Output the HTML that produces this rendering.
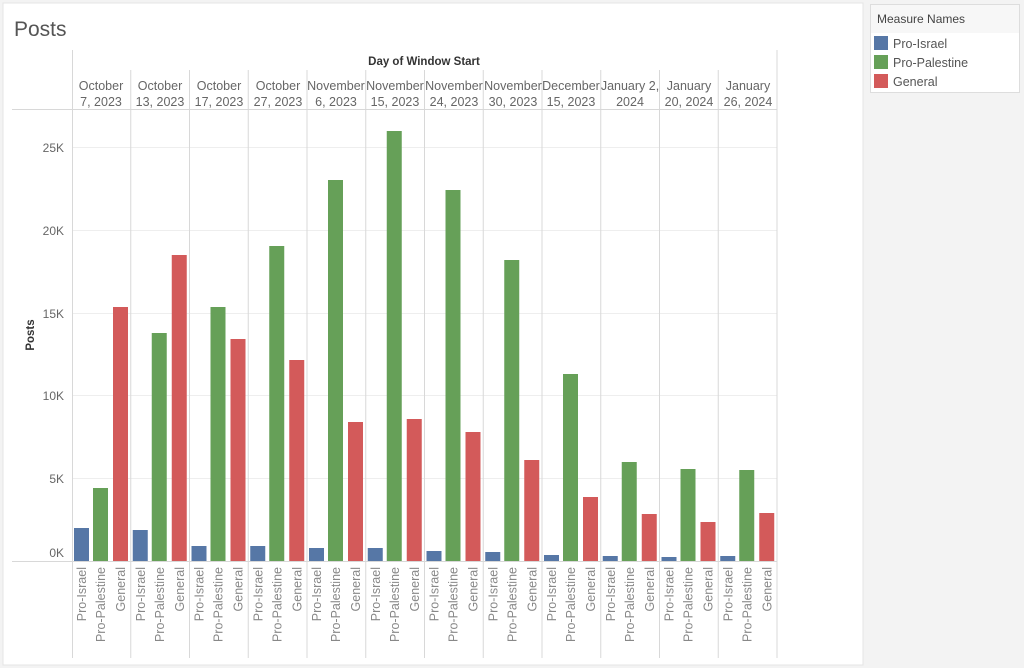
<!DOCTYPE html>
<html><head><meta charset="utf-8"><style>
html,body{margin:0;padding:0;background:#f3f3f3;}
svg{display:block;font-family:"Liberation Sans",sans-serif;}
</style></head><body>
<svg width="1024" height="668" viewBox="0 0 1024 668" xmlns="http://www.w3.org/2000/svg">
<rect x="0" y="0" width="1024" height="668" fill="#f3f3f3"/>
<rect x="3" y="3" width="860" height="662" fill="#ffffff" stroke="#e4e4e4"/>
<text x="14" y="36" font-size="21" fill="#555">Posts</text>
<!-- legend -->
<rect x="870.5" y="4.5" width="149" height="88" fill="#fff" stroke="#ddd"/>
<rect x="871" y="5" width="148" height="28" fill="#f7f7f7"/>
<text x="877" y="23" font-size="12" fill="#444">Measure Names</text>
<rect x="874" y="36" width="14" height="14" fill="#5677a6"/><text x="893" y="48" font-size="12.5" fill="#555">Pro-Israel</text>
<rect x="874" y="55" width="14" height="14" fill="#66a058"/><text x="893" y="67" font-size="12.5" fill="#555">Pro-Palestine</text>
<rect x="874" y="74" width="14" height="14" fill="#d35a5a"/><text x="893" y="86" font-size="12.5" fill="#555">General</text>
<!-- header -->
<text x="424" y="65" font-size="11.5" font-weight="bold" fill="#333" text-anchor="middle">Day of Window Start</text>
<g stroke="#eeeeee" stroke-width="1">
<line x1="72" y1="147.5" x2="777" y2="147.5"/><line x1="72" y1="230.5" x2="777" y2="230.5"/><line x1="72" y1="313.5" x2="777" y2="313.5"/><line x1="72" y1="395.5" x2="777" y2="395.5"/><line x1="72" y1="478.5" x2="777" y2="478.5"/>
</g>
<g stroke="#d8d8d8" stroke-width="1">
<line x1="72.5" y1="50" x2="72.5" y2="658"/>
<line x1="130.75" y1="70" x2="130.75" y2="658"/><line x1="189.5" y1="70" x2="189.5" y2="658"/><line x1="248.25" y1="70" x2="248.25" y2="658"/><line x1="307" y1="70" x2="307" y2="658"/><line x1="365.75" y1="70" x2="365.75" y2="658"/><line x1="424.5" y1="70" x2="424.5" y2="658"/><line x1="483.25" y1="70" x2="483.25" y2="658"/><line x1="542" y1="70" x2="542" y2="658"/><line x1="600.75" y1="70" x2="600.75" y2="658"/><line x1="659.5" y1="70" x2="659.5" y2="658"/><line x1="718.25" y1="70" x2="718.25" y2="658"/><line x1="777" y1="50" x2="777" y2="658"/>
<line x1="12" y1="109.5" x2="777" y2="109.5"/>
<line x1="12" y1="561.5" x2="777" y2="561.5"/>
</g>
<g font-size="12.5" fill="#666" text-anchor="middle">
<text x="101" y="90">October</text><text x="101" y="106">7, 2023</text>
<text x="160" y="90">October</text><text x="160" y="106">13, 2023</text>
<text x="219" y="90">October</text><text x="219" y="106">17, 2023</text>
<text x="278" y="90">October</text><text x="278" y="106">27, 2023</text>
<text x="336" y="90">November</text><text x="336" y="106">6, 2023</text>
<text x="395" y="90">November</text><text x="395" y="106">15, 2023</text>
<text x="454" y="90">November</text><text x="454" y="106">24, 2023</text>
<text x="513" y="90">November</text><text x="513" y="106">30, 2023</text>
<text x="571" y="90">December</text><text x="571" y="106">15, 2023</text>
<text x="630" y="90">January 2,</text><text x="630" y="106">2024</text>
<text x="689" y="90">January</text><text x="689" y="106">20, 2024</text>
<text x="748" y="90">January</text><text x="748" y="106">26, 2024</text>
</g>
<!-- y axis -->
<g font-size="12" fill="#666" text-anchor="end">
<text x="64" y="152">25K</text><text x="64" y="235">20K</text><text x="64" y="318">15K</text><text x="64" y="400">10K</text><text x="64" y="483">5K</text><text x="64" y="557">0K</text>
</g>
<text transform="translate(34,335) rotate(-90)" font-size="11.5" font-weight="bold" fill="#333" text-anchor="middle">Posts</text>
<!-- bars -->
<g fill="#5677a6">
<rect x="74" y="528" width="15" height="33"/><rect x="132.75" y="530" width="15" height="31"/><rect x="191.5" y="546" width="15" height="15"/><rect x="250.25" y="546" width="15" height="15"/><rect x="309" y="548" width="15" height="13"/><rect x="367.75" y="548" width="15" height="13"/><rect x="426.5" y="551" width="15" height="10"/><rect x="485.25" y="552" width="15" height="9"/><rect x="544" y="555" width="15" height="6"/><rect x="602.75" y="556" width="15" height="5"/><rect x="661.5" y="557" width="15" height="4"/><rect x="720.25" y="556" width="15" height="5"/>
</g>
<g fill="#66a058">
<rect x="93" y="488" width="15" height="73"/><rect x="151.75" y="333" width="15" height="228"/><rect x="210.5" y="307" width="15" height="254"/><rect x="269.25" y="246" width="15" height="315"/><rect x="328" y="180" width="15" height="381"/><rect x="386.75" y="131" width="15" height="430"/><rect x="445.5" y="190" width="15" height="371"/><rect x="504.25" y="260" width="15" height="301"/><rect x="563" y="374" width="15" height="187"/><rect x="621.75" y="462" width="15" height="99"/><rect x="680.5" y="469" width="15" height="92"/><rect x="739.25" y="470" width="15" height="91"/>
</g>
<g fill="#d35a5a">
<rect x="113" y="307" width="15" height="254"/><rect x="171.75" y="255" width="15" height="306"/><rect x="230.5" y="339" width="15" height="222"/><rect x="289.25" y="360" width="15" height="201"/><rect x="348" y="422" width="15" height="139"/><rect x="406.75" y="419" width="15" height="142"/><rect x="465.5" y="432" width="15" height="129"/><rect x="524.25" y="460" width="15" height="101"/><rect x="583" y="497" width="15" height="64"/><rect x="641.75" y="514" width="15" height="47"/><rect x="700.5" y="522" width="15" height="39"/><rect x="759.25" y="513" width="15" height="48"/>
</g>
<!-- bottom labels -->
<g font-size="12.5" fill="#888" text-anchor="end">
<text transform="translate(86,567) rotate(-90)">Pro-Israel</text><text transform="translate(105,567) rotate(-90)">Pro-Palestine</text><text transform="translate(125,567) rotate(-90)">General</text>
<text transform="translate(144.75,567) rotate(-90)">Pro-Israel</text><text transform="translate(163.75,567) rotate(-90)">Pro-Palestine</text><text transform="translate(183.75,567) rotate(-90)">General</text>
<text transform="translate(203.5,567) rotate(-90)">Pro-Israel</text><text transform="translate(222.5,567) rotate(-90)">Pro-Palestine</text><text transform="translate(242.5,567) rotate(-90)">General</text>
<text transform="translate(262.25,567) rotate(-90)">Pro-Israel</text><text transform="translate(281.25,567) rotate(-90)">Pro-Palestine</text><text transform="translate(301.25,567) rotate(-90)">General</text>
<text transform="translate(321,567) rotate(-90)">Pro-Israel</text><text transform="translate(340,567) rotate(-90)">Pro-Palestine</text><text transform="translate(360,567) rotate(-90)">General</text>
<text transform="translate(379.75,567) rotate(-90)">Pro-Israel</text><text transform="translate(398.75,567) rotate(-90)">Pro-Palestine</text><text transform="translate(418.75,567) rotate(-90)">General</text>
<text transform="translate(438.5,567) rotate(-90)">Pro-Israel</text><text transform="translate(457.5,567) rotate(-90)">Pro-Palestine</text><text transform="translate(477.5,567) rotate(-90)">General</text>
<text transform="translate(497.25,567) rotate(-90)">Pro-Israel</text><text transform="translate(516.25,567) rotate(-90)">Pro-Palestine</text><text transform="translate(536.25,567) rotate(-90)">General</text>
<text transform="translate(556,567) rotate(-90)">Pro-Israel</text><text transform="translate(575,567) rotate(-90)">Pro-Palestine</text><text transform="translate(595,567) rotate(-90)">General</text>
<text transform="translate(614.75,567) rotate(-90)">Pro-Israel</text><text transform="translate(633.75,567) rotate(-90)">Pro-Palestine</text><text transform="translate(653.75,567) rotate(-90)">General</text>
<text transform="translate(673.5,567) rotate(-90)">Pro-Israel</text><text transform="translate(692.5,567) rotate(-90)">Pro-Palestine</text><text transform="translate(712.5,567) rotate(-90)">General</text>
<text transform="translate(732.25,567) rotate(-90)">Pro-Israel</text><text transform="translate(751.25,567) rotate(-90)">Pro-Palestine</text><text transform="translate(771.25,567) rotate(-90)">General</text>
</g>
</svg>
</body></html>
